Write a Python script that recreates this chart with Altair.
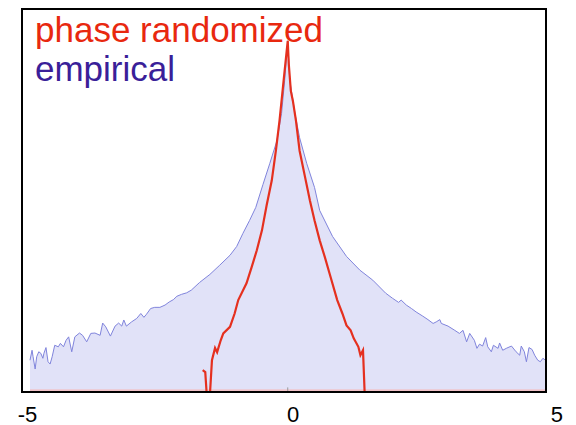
import altair as alt
import pandas as pd

# empirical distribution (outline of the shaded area)
emp_x = [-5.00, -4.96, -4.94, -4.90, -4.87, -4.83, -4.79, -4.75, -4.73, -4.69,
         -4.65, -4.61, -4.57, -4.52, -4.45, -4.41, -4.35, -4.30, -4.25, -4.19,
         -4.13, -4.04, -3.98, -3.90, -3.82, -3.74, -3.64, -3.59, -3.53, -3.44,
         -3.35, -3.28, -3.22, -3.18, -3.13, -3.03, -2.93, -2.85, -2.79, -2.74,
         -2.66, -2.58, -2.48, -2.38, -2.30, -2.22, -2.15, -2.06, -1.96, -1.87,
         -1.71, -1.51, -1.32, -1.12, -0.99, -0.87, -0.74, -0.62, -0.48, -0.35,
         -0.21, -0.12, -0.06, 0.00,
         0.04, 0.14, 0.23, 0.37, 0.52, 0.62, 0.87, 1.14, 1.40, 1.65,
         1.90, 2.03, 2.15, 2.20, 2.30, 2.40, 2.49, 2.62, 2.72, 2.82,
         2.88, 2.95, 2.98, 3.11, 3.24, 3.33, 3.40, 3.47, 3.53, 3.62,
         3.67, 3.72, 3.78, 3.84, 3.88, 3.95, 3.99, 4.08, 4.11, 4.17,
         4.24, 4.34, 4.43, 4.50, 4.53, 4.59, 4.63, 4.68, 4.74, 4.79,
         4.85, 4.90, 4.95, 5.00]
emp_y = [0.83, 1.09, 0.92, 0.60, 0.92, 1.05, 1.01, 0.88, 1.01, 1.16,
         0.79, 0.73, 0.92, 1.22, 1.18, 1.27, 1.18, 1.35, 1.44, 1.05,
         1.44, 1.54, 1.48, 1.31, 1.53, 1.54, 1.48, 1.80, 1.70, 1.46,
         1.72, 1.80, 1.72, 1.88, 1.72, 1.83, 1.92, 2.05, 1.95, 2.03,
         2.18, 2.21, 2.21, 2.27, 2.35, 2.41, 2.50, 2.55, 2.59, 2.66,
         2.86, 3.07, 3.31, 3.57, 3.80, 4.14, 4.48, 4.82, 5.42, 5.96,
         6.56, 7.27, 8.13, 9.17,
         8.13, 7.27, 6.64, 5.96, 5.34, 4.74, 4.06, 3.54, 3.18, 2.92,
         2.58, 2.45, 2.34, 2.40, 2.27, 2.18, 2.09, 1.98, 1.89, 1.79,
         1.83, 1.89, 1.79, 1.72, 1.61, 1.53, 1.61, 1.31, 1.53, 1.35,
         1.14, 1.25, 1.20, 1.42, 1.18, 1.05, 1.22, 1.14, 1.28, 1.09,
         1.14, 1.20, 1.05, 0.96, 1.20, 1.05, 0.79, 1.16, 1.11, 0.96,
         0.83, 0.79, 0.88, 0.83]

# phase randomized curve (values below 0 fall out of the frame)
red_x = [-1.65, -1.60, -1.56, -1.52, -1.47, -1.41, -1.37, -1.30, -1.25, -1.12,
         -1.03, -0.96, -0.80, -0.70, -0.60, -0.50, -0.41, -0.31, -0.23, -0.16,
         -0.12, -0.07, 0.00, 0.02, 0.06, 0.10, 0.16, 0.23, 0.33, 0.43,
         0.52, 0.62, 0.72, 0.81, 0.96, 1.06, 1.14, 1.22, 1.28, 1.37,
         1.41, 1.46, 1.50]
red_y = [0.57, 0.52, -0.30, -0.30, 0.83, 1.15, 1.04, 1.35, 1.53, 1.70,
         2.05, 2.40, 2.84, 3.26, 3.70, 4.22, 4.87, 5.52, 6.30, 7.08,
         7.60, 8.26, 9.17, 8.57, 7.86, 7.60, 7.08, 6.30, 5.65, 5.00,
         4.48, 3.96, 3.52, 3.10, 2.40, 2.05, 1.74, 1.61, 1.40, 1.18,
         0.96, 1.09, -0.30]

tick_values = [-5, 0, 5]
legend_labels = ["phase randomized", "empirical"]

W, H = 524, 383
xscale = alt.Scale(domain=[-5.155, 5.01], nice=False, zero=False)
yscale = alt.Scale(domain=[0, 10], nice=False, zero=False)

emp = pd.DataFrame({"x": emp_x, "y": emp_y})
red = pd.DataFrame({"x": red_x, "y": red_y, "i": list(range(len(red_x)))})

xaxis = alt.Axis(
    values=tick_values, title=None, grid=False, ticks=False, domain=False,
    labelFont="Liberation Sans", labelFontSize=22, labelColor="black",
    labelPadding=12, labelFlush=False,
    labelExpr="datum.value < 0 ? '-' + format(-datum.value, 'd') : format(datum.value, 'd')",
    labelOffset={"condition": [{"test": "datum.value == 0", "value": 5},
                               {"test": "datum.value == 5", "value": 11}],
                 "value": -3},
)

area = alt.Chart(emp).mark_area(color="#e1e2f8", clip=True).encode(
    x=alt.X("x:Q", scale=xscale, axis=xaxis),
    y=alt.Y("y:Q", scale=yscale, axis=None),
)
outline = alt.Chart(emp).mark_line(color="#8084dc", strokeWidth=1, clip=True).encode(
    x="x:Q", y="y:Q"
)
bottom = alt.Chart(pd.DataFrame({"a": [tick_values[0]], "b": [tick_values[-1]]})).mark_rule(
    color="#f6b8b8", strokeWidth=1.2
).encode(x="a:Q", x2="b:Q", y=alt.datum(0.05))
tick0 = alt.Chart(pd.DataFrame({"v": [0]})).mark_rule(color="#999999", strokeWidth=1).encode(
    x="v:Q", y=alt.datum(0), y2=alt.datum(0.12)
)
redline = alt.Chart(red).mark_line(color="#e5301f", strokeWidth=2.2, clip=True).encode(
    x="x:Q", y="y:Q", order="i:Q"
)
t1 = alt.Chart(pd.DataFrame({"t": [legend_labels[0]]})).mark_text(
    align="left", baseline="alphabetic", font="Liberation Sans", fontSize=35, color="#e8280f"
).encode(x=alt.value(13), y=alt.value(32.5), text="t:N")
t2 = alt.Chart(pd.DataFrame({"t": [legend_labels[1]]})).mark_text(
    align="left", baseline="alphabetic", font="Liberation Sans", fontSize=35, color="#3a1f99"
).encode(x=alt.value(13), y=alt.value(71.5), text="t:N")
frame = alt.Chart(pd.DataFrame({"a": [0]})).mark_rect(
    fillOpacity=0, stroke="black", strokeWidth=2
).encode(x=alt.value(0), x2=alt.value(W), y=alt.value(0), y2=alt.value(H))

chart = alt.layer(area, outline, bottom, tick0, redline, t1, t2, frame).properties(
    width=W, height=H,
    autosize=alt.AutoSizeParams(type="none"),
    padding={"left": 14, "top": 1, "right": 22, "bottom": 35},
).configure_view(stroke=None)

chart.save("out.html", embed_options={"renderer": "svg", "actions": False})
